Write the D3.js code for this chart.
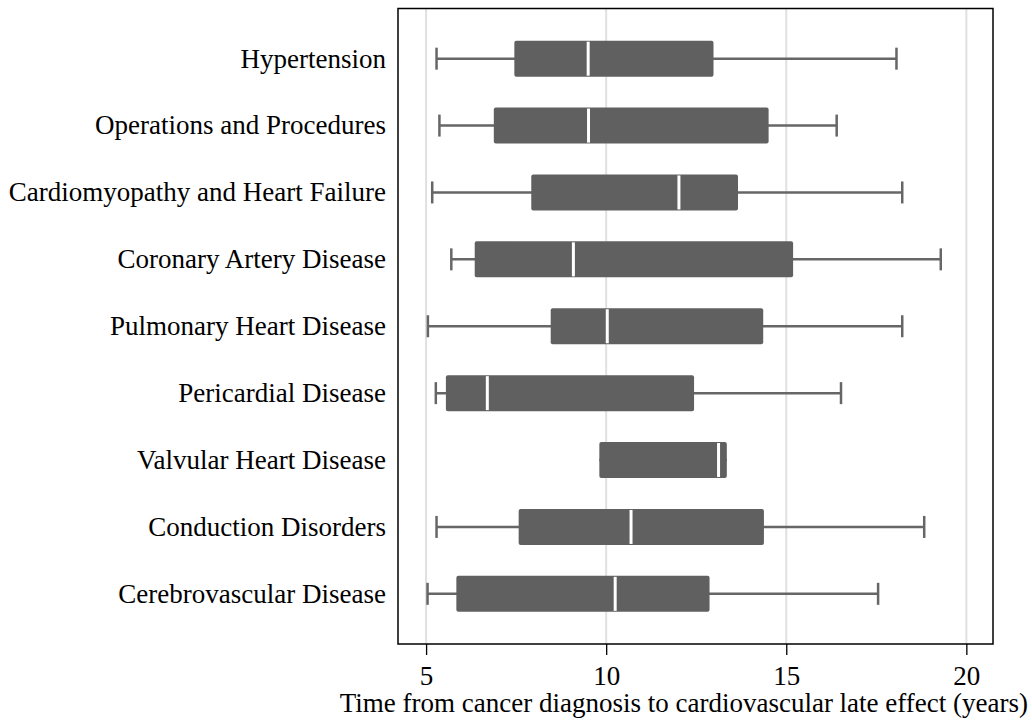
<!DOCTYPE html>
<html>
<head>
<meta charset="utf-8">
<script src="https://cdn.jsdelivr.net/npm/d3@7"></script>
<style>
  body { margin: 0; background: #fff; }
  text { font-family: "Liberation Serif", "Times New Roman", serif; fill: #000; }
</style>
</head>
<body>
<div id="chart"></div>
<script>
// categories, top to bottom
var categories = ["Hypertension", "Operations and Procedures", "Cardiomyopathy and Heart Failure",
  "Coronary Artery Disease", "Pulmonary Heart Disease", "Pericardial Disease",
  "Valvular Heart Disease", "Conduction Disorders", "Cerebrovascular Disease"];
// box statistics (years)
var whiskerLow  = [5.29, 5.37, 5.17, 5.70, 5.05, 5.27, 9.81, 5.29, 5.04];
var q1          = [7.45, 6.88, 7.92, 6.35, 8.46, 5.55, 9.81, 7.57, 5.84];
var median      = [9.50, 9.51, 12.02, 9.09, 10.03, 6.70, 13.12, 10.69, 10.25];
var q3          = [12.98, 14.51, 13.66, 15.19, 14.36, 12.44, 13.35, 14.38, 12.87];
var whiskerHigh = [18.06, 16.40, 18.22, 19.29, 18.22, 16.52, 13.35, 18.83, 17.55];
var xTicks = [5, 10, 15, 20];

var dataset = categories.map(function (c, i) {
  return { name: c, lo: whiskerLow[i], q1: q1[i], med: median[i], q3: q3[i], hi: whiskerHigh[i] };
});

var margin = { top: 8.5, right: 39, bottom: 80, left: 398 },
    width = 1032 - margin.left - margin.right,
    height = 724 - margin.top - margin.bottom;

var xScale = d3.scaleLinear().domain([4.22, 20.74]).range([0, width]);
var yScale = d3.scalePoint().domain(categories).range([0, height]).padding(0.75);

var svg = d3.select("#chart").append("svg")
    .attr("width", 1032).attr("height", 724)
    .append("g")
    .attr("transform", "translate(" + margin.left + "," + margin.top + ")");

// gridlines
svg.selectAll(".grid").data(xTicks).enter().append("line")
    .attr("x1", function (d) { return xScale(d); })
    .attr("x2", function (d) { return xScale(d); })
    .attr("y1", 0).attr("y2", height)
    .style("stroke", "#e0e0e0").style("stroke-width", 2);

var boxH = 36, capH = 22, col = "#606060";

var g = svg.selectAll(".box").data(dataset).enter().append("g")
    .attr("transform", function (d) { return "translate(0," + yScale(d.name) + ")"; });

// whiskers
g.append("line")
    .attr("x1", function (d) { return xScale(d.lo); })
    .attr("x2", function (d) { return xScale(d.hi); })
    .attr("y1", 0).attr("y2", 0)
    .style("stroke", "#666").style("stroke-width", 2.5);
g.selectAll(".cap").data(function (d) { return d.lo < d.q1 ? [d.lo, d.hi] : []; })
    .enter().append("line")
    .attr("x1", function (v) { return xScale(v); })
    .attr("x2", function (v) { return xScale(v); })
    .attr("y1", -capH / 2).attr("y2", capH / 2)
    .style("stroke", "#666").style("stroke-width", 2.5);

// boxes
g.append("rect")
    .attr("x", function (d) { return xScale(d.q1); })
    .attr("width", function (d) { return xScale(d.q3) - xScale(d.q1); })
    .attr("y", -boxH / 2).attr("height", boxH)
    .attr("rx", 2)
    .style("fill", col);

// medians
g.append("line")
    .attr("x1", function (d) { return xScale(d.med); })
    .attr("x2", function (d) { return xScale(d.med); })
    .attr("y1", -boxH / 2 + 1).attr("y2", boxH / 2 - 1)
    .style("stroke", "#fff").style("stroke-width", 3);

// category labels
g.append("text")
    .attr("x", -12).attr("y", 0).attr("dy", "0.33em")
    .attr("text-anchor", "end")
    .style("font-size", "27px")
    .text(function (d) { return d.name; });

// frame
svg.append("rect")
    .attr("width", width).attr("height", height)
    .style("fill", "none").style("stroke", "#000").style("stroke-width", 1.5);

// x axis
var xAxis = d3.axisBottom(xScale).tickValues(xTicks).tickSize(11).tickSizeOuter(0).tickPadding(11);
var xNode = svg.append("g").attr("transform", "translate(0," + height + ")").call(xAxis);
xNode.select(".domain").remove();
xNode.selectAll("line").style("stroke", "#000").style("stroke-width", 1.3);
xNode.selectAll("text")
    .style("font-size", "27px")
    .style("font-family", "'Liberation Serif', 'Times New Roman', serif");

svg.append("text")
    .attr("x", 1028 - margin.left).attr("y", 712 - margin.top)
    .attr("text-anchor", "end")
    .style("font-size", "27px")
    .text("Time from cancer diagnosis to cardiovascular late effect (years)");
</script>
</body>
</html>
